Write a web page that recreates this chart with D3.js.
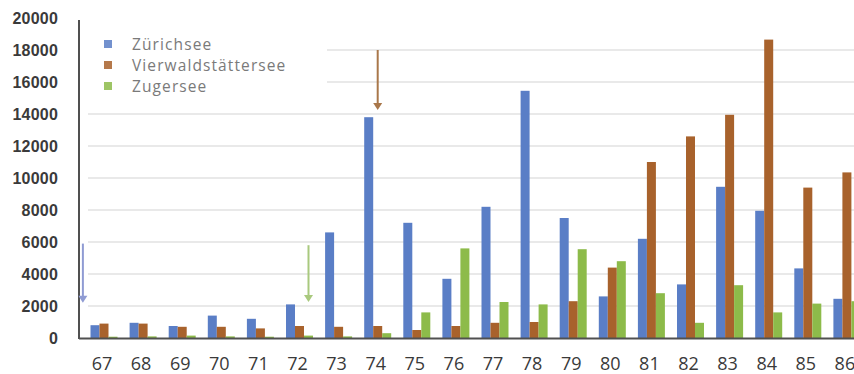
<!DOCTYPE html>
<html>
<head>
<meta charset="utf-8">
<script src="https://cdn.jsdelivr.net/npm/d3@7"></script>
<style>
  html, body { margin: 0; padding: 0; background: #fff; }
  svg { display: block; }
</style>
</head>
<body>
<svg id="chart" width="854" height="374"></svg>
<script>
// Yearly counts per lake, 1967–1986
const years = ["67","68","69","70","71","72","73","74","75","76","77","78","79","80","81","82","83","84","85","86"];
const lakes = ["Zürichsee", "Vierwaldstättersee", "Zugersee"];
const zuerichsee = [800, 950, 750, 1400, 1200, 2100, 6600, 13800, 7200, 3700, 8200, 15450, 7500, 2600, 6200, 3350, 9450, 7950, 4350, 2450];
const vierwaldstaettersee = [900, 900, 700, 700, 600, 750, 700, 750, 500, 750, 950, 1000, 2300, 4400, 11000, 12600, 13950, 18650, 9400, 10350];
const zugersee = [80, 100, 150, 100, 80, 150, 100, 300, 1600, 5600, 2250, 2100, 5550, 4800, 2800, 950, 3300, 1600, 2150, 2300];
const yTicks = [0, 2000, 4000, 6000, 8000, 10000, 12000, 14000, 16000, 18000, 20000];

// Annotation arrows: year, lake they point at (or band fraction), value range in data units
const arrows = [
  { year: "67", lake: null, frac: -0.04, from: 5900, to: 2200, color: "#8f9bd3" },
  { year: "72", lake: "Zugersee", frac: null, from: 5800, to: 2250, color: "#a9c97e" },
  { year: "74", lake: "Vierwaldstättersee", frac: null, from: 18000, to: 14250, color: "#a9774a" }
];

const colors = { "Zürichsee": "#5a7ec6", "Vierwaldstättersee": "#a8622c", "Zugersee": "#8dbb4a" };
const seriesValues = { "Zürichsee": zuerichsee, "Vierwaldstättersee": vierwaldstaettersee, "Zugersee": zugersee };

const svg = d3.select("#chart");
const axisX = 79, baseY = 338;
const step = 39.1;
const bandStart = 84.45;

const x = d3.scaleBand().domain(years).range([bandStart, bandStart + step * years.length]).padding(0);
const bw = x.bandwidth();
const xs = d3.scaleBand().domain(lakes).range([bw / 2 - 13.5, bw / 2 + 13.5]).padding(0);
const y = d3.scaleLinear().domain([0, 20000]).range([baseY, 18]);

// gridlines
svg.append("g").selectAll("line")
  .data(yTicks.filter(t => t > 0 && t < 20000))
  .join("line")
  .attr("x1", 88).attr("x2", 854)
  .attr("y1", d => y(d)).attr("y2", d => y(d))
  .attr("stroke", "#e2e2e2").attr("stroke-width", 1.5);

// bars
const groups = svg.append("g").selectAll("g")
  .data(years)
  .join("g")
  .attr("transform", d => `translate(${x(d)},0)`);

groups.selectAll("rect")
  .data((yr, i) => lakes.map(l => ({ lake: l, value: seriesValues[l][i] })))
  .join("rect")
  .attr("x", d => xs(d.lake))
  .attr("width", xs.bandwidth())
  .attr("y", d => y(d.value))
  .attr("height", d => baseY - y(d.value))
  .attr("fill", d => colors[d.lake]);

// legend box (white panel hides gridlines behind it)
svg.append("rect").attr("x", 81).attr("y", 0).attr("width", 246).attr("height", 100).attr("fill", "#fff");
const legend = svg.append("g").selectAll("g")
  .data(lakes)
  .join("g")
  .attr("transform", (d, i) => `translate(104, ${44 + i * 21})`);
legend.append("rect").attr("x", 0).attr("y", -4).attr("width", 8).attr("height", 8)
  .attr("fill", d => colors[d]).attr("opacity", 0.85);
legend.append("text").attr("x", 28).attr("y", 0).attr("dy", "0.36em")
  .attr("font-family", "'Open Sans', sans-serif").attr("font-size", 15.5)
  .attr("letter-spacing", "1.1px")
  .attr("fill", "#7a7a7a")
  .text(d => d);

// y axis
const yAxis = d3.axisLeft(y).tickValues(yTicks).tickSize(0).tickPadding(0).tickFormat(d3.format("d"));
const gy = svg.append("g").attr("transform", `translate(58,0)`).call(yAxis);
gy.select(".domain").remove();
gy.selectAll("text")
  .attr("font-family", "'Liberation Sans', Arial, sans-serif")
  .attr("font-size", 16).attr("font-weight", "bold").attr("fill", "#3a3a3a")
  .attr("letter-spacing", "0.2px");

// axis lines
svg.append("line").attr("x1", axisX).attr("x2", axisX).attr("y1", 20).attr("y2", baseY + 1)
  .attr("stroke", "#505050").attr("stroke-width", 2);
svg.append("line").attr("x1", axisX).attr("x2", 854).attr("y1", baseY + 0.5).attr("y2", baseY + 0.5)
  .attr("stroke", "#505050").attr("stroke-width", 2);

// x axis labels
const xAxis = d3.axisBottom(x).tickSize(0).tickPadding(0);
const gx = svg.append("g").attr("transform", `translate(-2,${baseY + 19})`).call(xAxis);
gx.select(".domain").remove();
gx.selectAll("text")
  .attr("font-family", "'Open Sans', sans-serif")
  .attr("font-size", 18).attr("fill", "#3a3a3a");

// annotation arrows
const arrowG = svg.append("g").selectAll("g").data(arrows).join("g");
arrowG.each(function (a) {
  const g = d3.select(this);
  const ax = a.lake ? x(a.year) + xs(a.lake) + xs.bandwidth() / 2 : x(a.year) + a.frac * bw;
  const tip = y(a.to);
  g.append("line").attr("x1", ax).attr("x2", ax).attr("y1", y(a.from)).attr("y2", tip - 6)
    .attr("stroke", a.color).attr("stroke-width", 2);
  g.append("path")
    .attr("d", `M${ax - 4.5},${tip - 7} L${ax + 4.5},${tip - 7} L${ax},${tip} Z`)
    .attr("fill", a.color);
});
</script>
</body>
</html>
